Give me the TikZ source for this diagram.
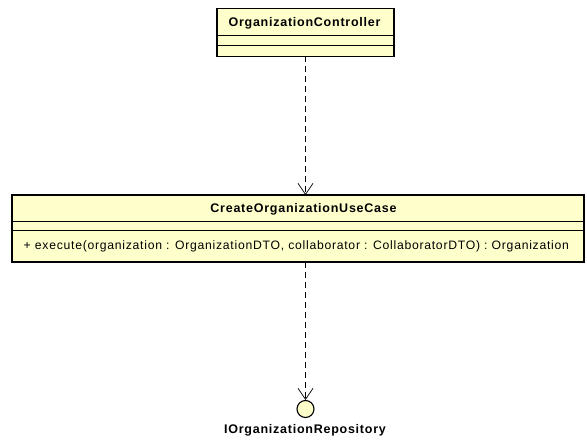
\documentclass[tikz,border=0pt]{standalone}
\usepackage{fontspec}
\setmainfont{Liberation Sans}[LetterSpace=6]
\usetikzlibrary{arrows.meta}
\definecolor{classfill}{RGB}{255,255,204}
\tikzset{
  classbox/.style={draw=black, line width=1.1pt, fill=classfill},
  compline/.style={draw=black, line width=0.9pt},
  dep/.style={dashed, dash pattern=on 5.5pt off 4.5pt, line width=0.7pt,
    -{Straight Barb[length=11pt,width=15pt,line width=0.7pt]}},
  title/.style={font=\fontsize{12.5}{14}\selectfont\bfseries, inner sep=0pt},
  member/.style={font=\fontsize{12.2}{14}\selectfont, inner sep=0pt, anchor=west},
}
\begin{document}
\begin{tikzpicture}[x=1pt,y=-1pt]
\useasboundingbox (0,0) rectangle (587,441);
% OrganizationController
\path[classbox] (217,8.5) rectangle (394,56.5);
\draw[compline] (217,35.7) -- (394,35.7);
\draw[compline] (217,45.5) -- (394,45.5);
\node[title] (ctrl) at (304.5,23) {OrganizationController};
\coordinate (ctrlbot) at (305.5,56.5);
% CreateOrganizationUseCase
\path[classbox] (12,195) rectangle (584,262);
\draw[compline] (12,221.7) -- (584,221.7);
\draw[compline] (12,230.7) -- (584,230.7);
\node[title] (uc) at (303.5,209.5) {CreateOrganizationUseCase};
\node[member] (exec) at (23.5,246) {+ execute(organization : OrganizationDTO, collaborator : CollaboratorDTO) : Organization};
\coordinate (uctop) at (305.5,195);
\coordinate (ucbot) at (305.5,262);
% IOrganizationRepository interface
\node[circle, draw=black, line width=1.1pt, fill=classfill, minimum size=17pt, inner sep=0pt] (repo) at (305.5,409) {};
\node[title] (repolbl) at (305,430) {IOrganizationRepository};
% dependencies
\draw[dep] (ctrlbot) -- (uctop);
\draw[dep] (ucbot) -- (repo.north);
\end{tikzpicture}
\end{document}
